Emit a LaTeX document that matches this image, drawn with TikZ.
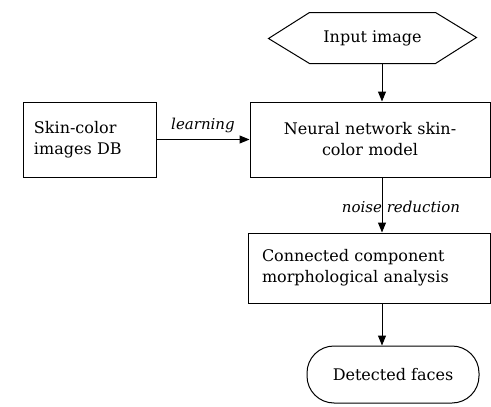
\documentclass[tikz,border=0pt]{standalone}
\usepackage{fontspec}
\setmainfont{DejaVu Serif}
\usetikzlibrary{arrows.meta}
\tikzset{
  box/.style={draw, line width=1pt, inner sep=0pt, font=\fontsize{16}{21}\selectfont},
  lbl/.style={font=\fontsize{15}{17}\selectfont\itshape},
  arr/.style={-{Triangle[width=8pt,length=10pt]}, line width=1pt}
}
\begin{document}
\begin{tikzpicture}[x=1pt,y=-1pt]
\useasboundingbox (0,0) rectangle (491,407);

% Input image (hexagon)
\node[box, draw=none, minimum width=125pt, minimum height=50pt] (input) at (372.5,38) {Input image};
\draw[line width=1pt] (input.north west) -- (input.north east) -- ++(41,25) -- (input.south east) -- (input.south west) -- ++(-41,-25) -- cycle;

% Boxes
\node[box, minimum width=133pt, minimum height=75pt, text width=111pt, align=left] (skin) at (89.5,139.5) {Skin-color\\images DB};
\node[box, minimum width=240pt, minimum height=75pt, text width=220pt, align=center] (nn) at (370,139.5) {Neural network skin-\\color model};
\node[box, minimum width=242pt, minimum height=70pt, text width=214pt, align=left] (cca) at (369,268) {Connected component\\morphological analysis};
\node[box, rounded corners=27pt, minimum width=172pt, minimum height=57pt] (faces) at (393,374.5) {Detected faces};

% Arrows
\coordinate (axis) at (382,0);
\draw[arr] (input.south -| axis) -- (nn.north -| axis);
\draw[arr] (skin) -- (nn) node[lbl, midway, above=3pt] {learning};
\draw[arr] (nn.south -| axis) -- (cca.north -| axis) node[lbl, midway, xshift=19pt, yshift=-2pt] {noise reduction};
\draw[arr] (cca.south -| axis) -- (faces.north -| axis);
\end{tikzpicture}
\end{document}
